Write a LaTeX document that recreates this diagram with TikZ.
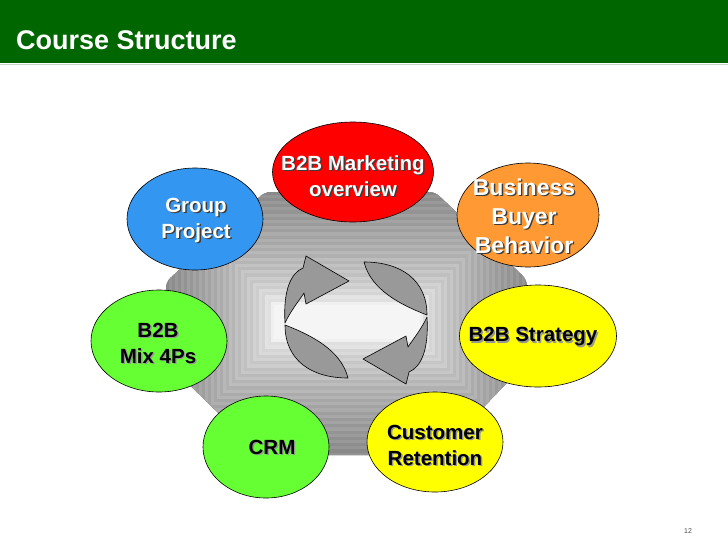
\documentclass[tikz,border=0pt]{standalone}
\usepackage{fontspec}
\setmainfont{Liberation Sans}
\usetikzlibrary{shapes.geometric}

\definecolor{barGreen}{RGB}{0,102,0}
\definecolor{bRed}{RGB}{255,0,0}
\definecolor{bBlue}{RGB}{51,150,240}
\definecolor{bOrange}{RGB}{255,153,51}
\definecolor{bYellow}{RGB}{255,255,0}
\definecolor{bGreen}{RGB}{102,255,51}
\definecolor{arrowGray}{RGB}{153,153,153}
\definecolor{shDark}{RGB}{60,60,60}
\definecolor{shLight}{RGB}{150,150,150}

\tikzset{
  bubble/.style={ellipse,draw=black,line width=0.6pt,inner sep=0pt},
  lbl/.style={font=\fontsize{20.5}{26}\selectfont\bfseries,align=center,inner sep=0pt},
  biglbl/.style={font=\fontsize{23}{29}\selectfont\bfseries},
  swirl/.style={fill=arrowGray,draw=black,line width=0.6pt,line join=round}
}
% label with a drop shadow: [options] name, position, colour, shadow colour, text
\newcommand{\shtext}[6][]{%
  \node[lbl,#1,text=#5] at ([shift={(1.4,1.4)}]#3) {#6};
  \node[lbl,#1,text=#4] (#2) at (#3) {#6};}

\begin{document}
\begin{tikzpicture}[x=1pt,y=-1pt]
\useasboundingbox[fill=white] (0,0) rectangle (728,546);
% title bar
\fill[barGreen] (0,0) rectangle (728,63);
\draw[green!20!gray!40,line width=1pt] (0,64) -- (728,64);
\node[anchor=west,inner sep=0pt,text=white,font=\fontsize{27}{30}\selectfont\bfseries] (title) at (16,40) {Course Structure};
% shaded octagon behind
\begin{scope}
  \clip[rounded corners=6pt] (265,192) -- (435,192) -- (527,280) -- (527,362) -- (437,455) -- (262,455) -- (166,362) -- (166,282) -- cycle;
  \foreach \i in {0,...,39} {
    \pgfmathsetmacro{\hw}{190-\i*3}
    \pgfmathsetmacro{\hh}{140-\i*3.15}
    \pgfmathsetmacro{\gv}{44*(1-\i/39)^0.55+4*mod(\i,2)}
    \fill[black!\gv] (347-\hw,322-\hh) rectangle (347+\hw,322+\hh);
  }
\end{scope}
% cycle arrows
\foreach \r in {0,180} {
  \begin{scope}[shift={(356,320)},rotate=\r]
    \draw[swirl] (-71,3) .. controls (-73,-30) and (-65,-47) .. (-53,-52) -- (-50,-64) -- (-7,-39) -- (-50,-16) -- (-52,-27) .. controls (-58,-18) and (-66,-8) .. cycle;
    \draw[swirl] (-71,5) .. controls (-71,40) and (-45,58) .. (-8,58) .. controls (-15,30) and (-45,15) .. cycle;
  \end{scope}
}
% bubbles
\node[bubble,fill=bRed,minimum width=161pt,minimum height=100pt] (overview) at (353,172) {};
\node[bubble,fill=bBlue,minimum width=136pt,minimum height=102pt] (project) at (195,219) {};
\node[bubble,fill=bOrange,minimum width=142pt,minimum height=104pt] (buyer) at (528,215) {};
\node[bubble,fill=bGreen,minimum width=136pt,minimum height=102pt] (mix) at (159,341) {};
\node[bubble,fill=bYellow,minimum width=157pt,minimum height=102pt] (strategy) at (538,336) {};
\node[bubble,fill=bGreen,minimum width=126pt,minimum height=102pt] (crm) at (266,447) {};
\node[bubble,fill=bYellow,minimum width=136pt,minimum height=100pt] (retention) at (435,442) {};
% labels
\shtext{overviewtxt}{353,176}{white}{shDark}{B2B Marketing\\overview}
\shtext{projecttxt}{196,220}{white}{shDark}{Group\\Project}
\shtext[biglbl]{buyertxt}{524,216}{white}{shDark}{Business\\Buyer\\Behavior}
\shtext{mixtxt}{158,343}{black}{shLight}{B2B\\Mix 4Ps}
\shtext{strategytxt}{533,337}{black}{shLight}{B2B Strategy}
\shtext{crmtxt}{272,447}{black}{shLight}{CRM}
\shtext{retentiontxt}{435,445}{black}{shLight}{Customer\\Retention}
% page number
\node[font=\fontsize{7}{8}\selectfont,text=black!70] (pagenum) at (688,531) {12};
\end{tikzpicture}
\end{document}
